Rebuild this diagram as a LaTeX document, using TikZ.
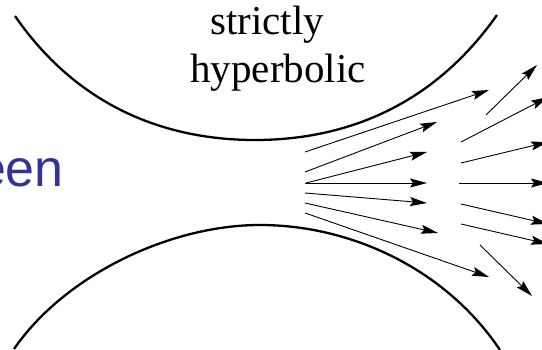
\documentclass[tikz,border=0pt]{standalone}
\usepackage{fontspec}
\setmainfont{Liberation Serif}
\newfontfamily\slidesans{Liberation Sans}
\usepackage{xcolor}
\usepackage{tikz}
\usetikzlibrary{arrows.meta}
\definecolor{SlideBlue}{HTML}{333399}

\begin{document}
\begin{tikzpicture}[x=1pt,y=-1pt,
  wall/.style={line width=2.3pt},
  vec/.style={line width=0.9pt,-{Stealth[length=17pt,width=9pt,inset=3pt]}},
  lab/.style={font=\fontsize{41}{48}\selectfont,inner sep=0pt,anchor=base}]
\useasboundingbox (0,0) rectangle (542,350);
\clip (0,0) rectangle (542,350);
% the two walls
\draw[wall] (15,16) .. controls (80,110) and (170,140) .. (255,140)
  .. controls (340,140) and (430,110) .. (497,15);
\draw[wall] (14,349) .. controls (65,275) and (170,225) .. (260,225)
  .. controls (350,225) and (445,268) .. (500,350);
% flow, left fan
\foreach \xa/\ya/\xb/\yb in {305/152/489/90, 305/172/437/122, 306/183/427/152, 305/183/427/183,
  305/193/427/203, 305/203/438/233, 305/213/489/277}
  \draw[vec] (\xa,\ya) -- (\xb,\yb);
% flow, right fan
\foreach \xa/\ya/\xb/\yb in {486/115/537/65, 461/142/548/97, 461/163/548/142, 459/183/548/183,
  461/204/548/224, 461/224/548/244, 480/245/532/296}
  \draw[vec] (\xa,\ya) -- (\xb,\yb);
\node[lab] (strictly) at (267,35) {strictly};
\node[lab] (hyperb) at (278,83) {hyperbolic};
\node[font=\slidesans\fontsize{52}{60}\selectfont,text=SlideBlue,inner sep=0pt,anchor=base east]
  (tween) at (64,187) {een};
\end{tikzpicture}
\end{document}
